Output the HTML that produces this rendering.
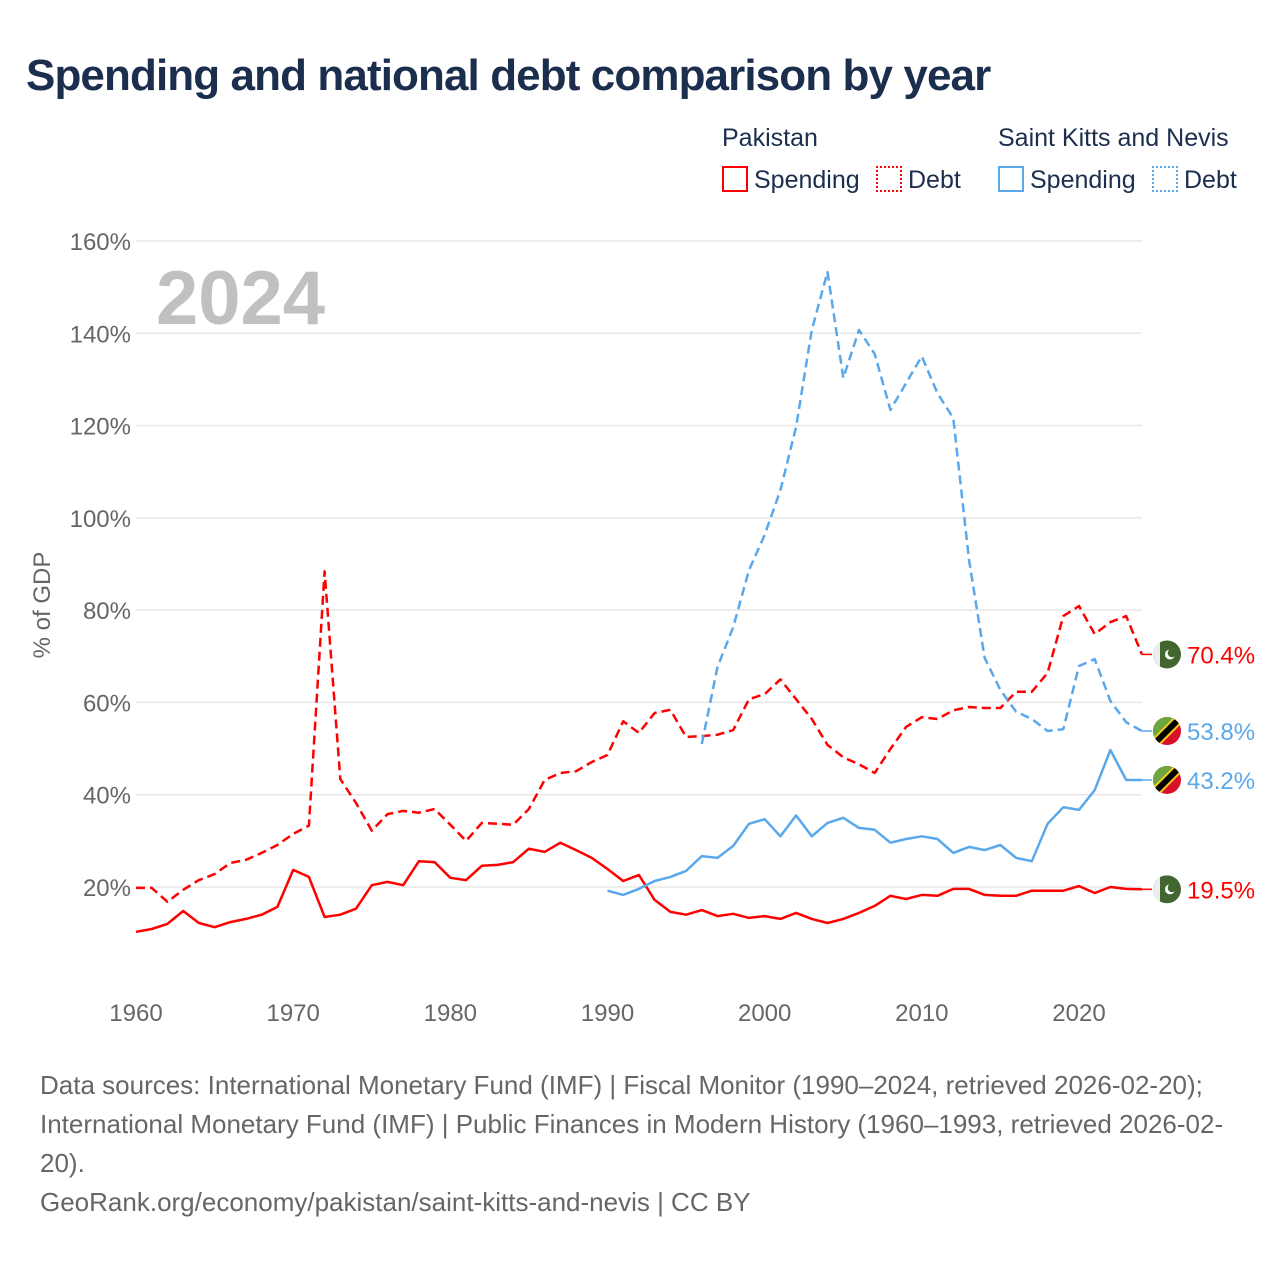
<!DOCTYPE html>
<html><head><meta charset="utf-8">
<style>
body{margin:0;width:1280px;height:1280px;background:#fff;font-family:"Liberation Sans",sans-serif;overflow:hidden;position:relative}
.abs{position:absolute;white-space:nowrap}
</style></head>
<body>
<div class="abs" style="left:26px;top:51px;font-size:44px;font-weight:bold;color:#1c2e4e;letter-spacing:-0.9px">Spending and national debt comparison by year</div>
<div class="abs" style="left:722px;top:124px;font-size:25px;color:#1c2e4e">Pakistan</div>
<div class="abs" style="left:998px;top:124px;font-size:25px;color:#1c2e4e">Saint Kitts and Nevis</div>
<div class="abs" style="left:722px;top:166px;font-size:25px;color:#1c2e4e"><span style="display:inline-block;width:22px;height:22px;border:2px solid #f00;vertical-align:-4px;margin-right:6px"></span>Spending</div>
<div class="abs" style="left:876px;top:166px;font-size:25px;color:#1c2e4e"><span style="display:inline-block;width:22px;height:22px;border:2px dotted #f00;vertical-align:-4px;margin-right:6px"></span>Debt</div>
<div class="abs" style="left:998px;top:166px;font-size:25px;color:#1c2e4e"><span style="display:inline-block;width:22px;height:22px;border:2px solid #5aa8ec;vertical-align:-4px;margin-right:6px"></span>Spending</div>
<div class="abs" style="left:1152px;top:166px;font-size:25px;color:#1c2e4e"><span style="display:inline-block;width:22px;height:22px;border:2px dotted #5aa8ec;vertical-align:-4px;margin-right:6px"></span>Debt</div>

<svg id="chart" width="1280" height="1280" style="position:absolute;left:0;top:0" xmlns="http://www.w3.org/2000/svg"></svg>

<div class="abs" style="left:40px;top:1066px;font-size:26px;line-height:39px;color:#666;white-space:normal;width:1200px">Data sources: International Monetary Fund (IMF) | Fiscal Monitor (1990–2024, retrieved 2026-02-20); International Monetary Fund (IMF) | Public Finances in Modern History (1960–1993, retrieved 2026-02-20).<br>GeoRank.org/economy/pakistan/saint-kitts-and-nevis | CC BY</div>

<script>
const yTicks=[20,40,60,80,100,120,140,160];
const xTicks=[1960,1970,1980,1990,2000,2010,2020];
const pkSpendStart=1960;
const pkSpending=[10.3,10.9,12,14.8,12.2,11.3,12.4,13.1,14,15.7,23.7,22.2,13.5,14,15.3,20.4,21.1,20.4,25.6,25.4,22,21.5,24.6,24.8,25.4,28.3,27.6,29.6,28,26.3,23.9,21.3,22.6,17.2,14.6,14,15,13.7,14.2,13.3,13.7,13.1,14.4,13.1,12.2,13.1,14.4,15.9,18.1,17.4,18.3,18.1,19.6,19.6,18.3,18.1,18.1,19.2,19.2,19.2,20.2,18.7,20,19.6,19.5];
const pkDebtStart=1960;
const pkDebt=[19.8,19.8,16.8,19.4,21.5,22.8,25.2,25.9,27.4,29.1,31.5,33.3,88.4,43.4,38.2,32.2,35.8,36.5,36.1,36.9,33.5,30,33.9,33.7,33.5,36.9,43.2,44.7,45.1,47.1,48.6,55.9,53.4,57.7,58.4,52.5,52.7,53,54,60.7,61.8,65,60.7,56.4,50.8,48.1,46.6,44.7,49.9,54.7,56.8,56.4,58.3,59,58.8,58.8,62.3,62.3,66.4,78.7,80.9,74.8,77.4,78.7,70.4];
const sknSpendStart=1990;
const sknSpending=[19.2,18.3,19.6,21.3,22.2,23.5,26.7,26.3,28.9,33.7,34.7,31,35.5,31,33.9,35,32.8,32.4,29.6,30.4,31,30.4,27.4,28.7,28,29.1,26.3,25.6,33.7,37.3,36.7,41,49.7,43.2,43.2];
const sknDebtStart=1996;
const sknDebt=[51,67.7,76.3,88.7,96.3,106,119.7,140.7,153.3,130.3,140.7,135.5,123.4,129.2,135,127,121.6,90.9,69.6,62.7,58,56.4,53.8,54.2,67.9,69.4,60.3,55.7,53.8];

const NS="http://www.w3.org/2000/svg";
const svg=document.getElementById('chart');
const X=yr=>136+(yr-1960)*(943/60);
const Y=v=>979.3-v*4.6145;
function mk(tag,attrs,parent){const e=document.createElementNS(NS,tag);for(const k in attrs)e.setAttribute(k,attrs[k]);(parent||svg).appendChild(e);return e;}

yTicks.forEach(t=>{
  const l=mk('line',{x1:136,x2:1142,y1:Y(t),y2:Y(t),stroke:'#e8e8e8','stroke-width':1.5});
  
  
  const tx=mk('text',{x:131,y:Y(t)+9,'text-anchor':'end','font-size':24,fill:'#666','font-family':'Liberation Sans, sans-serif'});
  tx.textContent=t+'%';
  
  
});
xTicks.forEach(t=>{
  const tx=mk('text',{x:X(t),y:1021,'text-anchor':'middle','font-size':24,fill:'#666','font-family':'Liberation Sans, sans-serif'});
  tx.textContent=t;
  
  
});
const yt=mk('text',{x:0,y:0,transform:'translate(50,605) rotate(-90)','text-anchor':'middle','font-size':24,fill:'#666','font-family':'Liberation Sans, sans-serif'});
yt.textContent='% of GDP';


const yr=mk('text',{x:156,y:324,'font-size':76,'font-weight':'bold',fill:'#c0c0c0','font-family':'Liberation Sans, sans-serif'});
yr.textContent='2024';



function series(vals,start,color,dash,name){
  const pts=vals.map((v,i)=>X(start+i).toFixed(1)+','+Y(v).toFixed(1)).join(' ');
  const p=mk('polyline',{points:pts,fill:'none',stroke:color,'stroke-width':2.5,'stroke-linejoin':'round'});
  if(dash)p.setAttribute('stroke-dasharray','9,5');
  
  
  const last=vals[vals.length-1];
  const ly=Y(last);
  const seg=mk('line',{x1:X(start+vals.length-1),x2:1152,y1:ly,y2:ly,stroke:color,'stroke-width':1.5});
  
  
  const t=mk('text',{x:1187,y:ly+9,'font-size':24,fill:color,'font-family':'Liberation Sans, sans-serif'});
  t.textContent=last.toFixed(1)+'%';
  
  
  return ly;
}
function pkFlag(cy,id){
  const g=mk('g',{});
  
  
  const cp=mk('clipPath',{id:id},g);mk('circle',{cx:1167,cy:cy,r:14},cp);
  const gg=mk('g',{'clip-path':'url(#'+id+')'},g);
  mk('rect',{x:1153,y:cy-14,width:28,height:28,fill:'#41662f'},gg);
  mk('rect',{x:1153,y:cy-14,width:7,height:28,fill:'#eee'},gg);
  mk('circle',{cx:1170,cy:cy,r:5,fill:'#fff'},gg);
  mk('circle',{cx:1172,cy:cy-1.5,r:4.3,fill:'#41662f'},gg);
}
function sknFlag(cy,id){
  const g=mk('g',{});
  
  
  const cp=mk('clipPath',{id:id},g);mk('circle',{cx:1167,cy:cy,r:14},cp);
  const gg=mk('g',{'clip-path':'url(#'+id+')'},g);
  mk('rect',{x:1153,y:cy-14,width:28,height:28,fill:'#d8102c'},gg);
  mk('polygon',{points:`1153,${cy-14} 1181,${cy-14} 1153,${cy+14}`,fill:'#6ca640'},gg);
  mk('line',{x1:1150,y1:cy+17,x2:1184,y2:cy-17,stroke:'#f6cf1c','stroke-width':10},gg);
  mk('line',{x1:1150,y1:cy+17,x2:1184,y2:cy-17,stroke:'#000','stroke-width':6},gg);
}
const a=series(pkDebt,pkDebtStart,'#ff0000',true,'pakistan-debt-line');
const b=series(pkSpending,pkSpendStart,'#ff0000',false,'pakistan-spending-line');
const c=series(sknDebt,sknDebtStart,'#5aa8ec',true,'skn-debt-line');
const d=series(sknSpending,sknSpendStart,'#5aa8ec',false,'skn-spending-line');
pkFlag(a,'f1');pkFlag(b,'f2');sknFlag(c,'f3');sknFlag(d,'f4');
</script>
</body></html>
